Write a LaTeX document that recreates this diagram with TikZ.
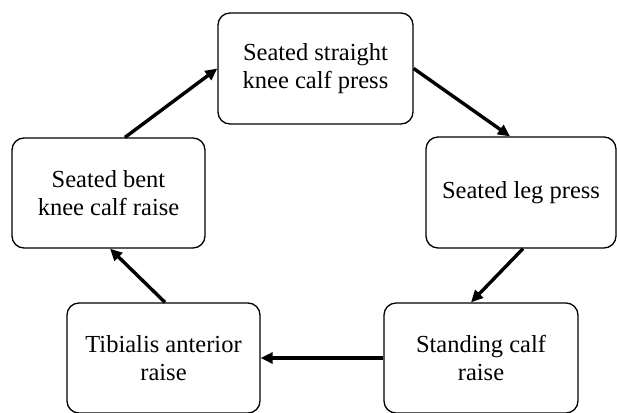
\documentclass[tikz,border=0pt]{standalone}
\usepackage{fontspec}
\setmainfont{Liberation Serif}
\usetikzlibrary{arrows.meta}
\begin{document}
\begin{tikzpicture}[x=1pt,y=-1pt,
  box/.style={draw, line width=1.3pt, rounded corners=12pt, align=center,
    font=\fontsize{24.5}{28.5}\selectfont, inner sep=0pt},
  flow/.style={line width=3.4pt, -{Triangle[length=12pt,width=11pt]}}]
\clip (0,0) rectangle (617,412);
\node[box, minimum width=195pt, minimum height=111pt] (top) at (315.5,68.5) {Seated straight\\knee calf press};
\node[box, minimum width=190pt, minimum height=111pt] (right) at (521,192.5) {Seated leg press};
\node[box, minimum width=194pt, minimum height=110pt] (br) at (481,358) {Standing calf\\raise};
\node[box, minimum width=193pt, minimum height=110pt] (bl) at (163.5,358) {Tibialis anterior\\raise};
\node[box, minimum width=193pt, minimum height=110pt] (left) at (108.5,193) {Seated bent\\knee calf raise};
\draw[flow] ([xshift=16.5pt]left.north) -- (top.west);
\draw[flow] (top.east) -- ([xshift=-11pt]right.north);
\draw[flow] ([xshift=2pt]right.south) -- ([xshift=-10pt]br.north);
\draw[flow] (br.west) -- (bl.east);
\draw[flow] ([xshift=1.5pt]bl.north) -- ([xshift=1.5pt]left.south);
\end{tikzpicture}
\end{document}
